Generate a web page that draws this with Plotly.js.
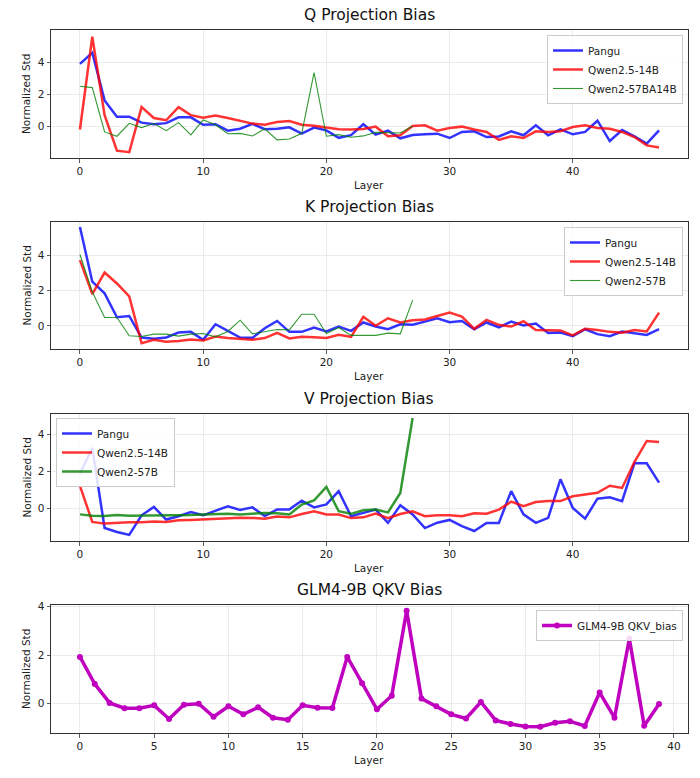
<!DOCTYPE html>
<html><head><meta charset="utf-8">
<script src="https://cdn.plot.ly/plotly-3.0.1.min.js"></script>
<style>html,body{margin:0;padding:0;background:#fff}</style>
</head><body><div id="chart" style="width:700px;height:778px"></div>
<script>
// ---------- data ----------
const layers48 = [0,1,2,3,4,5,6,7,8,9,10,11,12,13,14,15,16,17,18,19,20,21,22,23,24,25,26,27,28,29,30,31,32,33,34,35,36,37,38,39,40,41,42,43,44,45,46,47];
const layers28 = [0,1,2,3,4,5,6,7,8,9,10,11,12,13,14,15,16,17,18,19,20,21,22,23,24,25,26,27];
const layers40 = [0,1,2,3,4,5,6,7,8,9,10,11,12,13,14,15,16,17,18,19,20,21,22,23,24,25,26,27,28,29,30,31,32,33,34,35,36,37,38,39];

const qPangu = [3.9,4.6,1.62,0.6,0.6,0.23,0.13,0.2,0.56,0.56,0.1,0.13,-0.27,-0.15,0.15,-0.18,-0.15,-0.06,-0.45,-0.08,-0.25,-0.72,-0.55,0.13,-0.52,-0.27,-0.75,-0.54,-0.5,-0.46,-0.73,-0.35,-0.31,-0.67,-0.63,-0.31,-0.56,0.06,-0.56,-0.19,-0.5,-0.35,0.35,-0.92,-0.23,-0.62,-1.08,-0.25];
const qQwen25 = [-0.2,5.6,0.69,-1.52,-1.62,1.2,0.52,0.38,1.2,0.7,0.54,0.67,0.52,0.35,0.17,0.1,0.27,0.33,0.1,0.04,-0.08,-0.19,-0.2,-0.17,-0.02,-0.62,-0.56,0.02,0.06,-0.27,-0.1,-0.02,-0.2,-0.35,-0.85,-0.62,-0.73,-0.31,-0.35,-0.31,-0.04,0.06,-0.1,-0.15,-0.35,-0.67,-1.19,-1.33];
const qQwen2 = [2.5,2.42,-0.35,-0.62,0.19,-0.08,0.17,-0.27,0.23,-0.54,0.4,0.1,-0.46,-0.44,-0.6,-0.15,-0.85,-0.79,-0.44,3.35,-0.62,-0.52,-0.68,-0.6,-0.38,-0.4,-0.42,0.02];

const kPangu = [5.6,2.5,1.84,0.49,0.56,-0.66,-0.73,-0.66,-0.38,-0.34,-0.79,0.09,-0.28,-0.66,-0.68,-0.13,0.28,-0.34,-0.34,-0.09,-0.32,-0.04,-0.28,0.19,-0.04,-0.19,0.09,0.06,0.24,0.43,0.21,0.28,-0.19,0.19,-0.08,0.24,0.02,0.13,-0.41,-0.38,-0.58,-0.19,-0.47,-0.58,-0.32,-0.43,-0.51,-0.19];
const kQwen25 = [3.72,1.8,3.02,2.4,1.67,-0.98,-0.79,-0.9,-0.86,-0.77,-0.83,-0.6,-0.69,-0.73,-0.79,-0.69,-0.39,-0.71,-0.62,-0.64,-0.69,-0.51,-0.62,0.51,0.0,0.43,0.19,0.32,0.36,0.56,0.75,0.53,-0.17,0.34,0.06,-0.04,0.26,-0.23,-0.23,-0.26,-0.54,-0.17,-0.23,-0.34,-0.39,-0.23,-0.32,0.75];
const kQwen2 = [4.04,1.93,0.47,0.47,-0.56,-0.6,-0.47,-0.47,-0.58,-0.47,-0.43,-0.62,-0.32,0.32,-0.45,-0.32,-0.21,-0.23,0.66,0.66,-0.43,-0.09,-0.54,-0.54,-0.54,-0.41,-0.45,1.46];

const vPangu = [1.89,3.28,-1.05,-1.26,-1.42,-0.36,0.09,-0.59,-0.41,-0.18,-0.36,-0.11,0.13,-0.07,0.07,-0.4,-0.04,-0.04,0.43,0.07,0.23,0.95,-0.41,-0.23,-0.05,-0.77,0.18,-0.31,-1.05,-0.76,-0.61,-0.95,-1.21,-0.77,-0.77,0.95,-0.31,-0.77,-0.5,1.59,0.04,-0.54,0.54,0.61,0.4,2.45,2.45,1.41];
const vQwen25 = [1.23,-0.72,-0.81,-0.76,-0.74,-0.74,-0.7,-0.72,-0.63,-0.61,-0.58,-0.54,-0.5,-0.49,-0.5,-0.54,-0.43,-0.47,-0.29,-0.14,-0.31,-0.32,-0.51,-0.47,-0.27,-0.52,-0.29,-0.14,-0.41,-0.36,-0.36,-0.41,-0.25,-0.27,-0.05,0.38,0.13,0.36,0.41,0.41,0.67,0.76,0.86,1.24,1.12,2.52,3.66,3.6];
const vQwen2 = [-0.31,-0.38,-0.4,-0.34,-0.38,-0.38,-0.36,-0.34,-0.36,-0.34,-0.31,-0.29,-0.27,-0.31,-0.25,-0.23,-0.25,-0.31,0.22,0.45,1.17,-0.14,-0.28,-0.09,-0.05,-0.2,0.85,4.9];

const glmQkv = [1.93,0.81,0.03,-0.19,-0.19,-0.07,-0.63,-0.04,0.0,-0.54,-0.11,-0.44,-0.15,-0.58,-0.66,-0.07,-0.17,-0.18,1.93,0.84,-0.23,0.33,3.83,0.21,-0.11,-0.44,-0.61,0.07,-0.69,-0.84,-0.94,-0.95,-0.79,-0.73,-0.92,0.46,-0.58,2.68,-0.91,-0.01];

const titles = ['Q Projection Bias','K Projection Bias','V Projection Bias','GLM4-9B QKV Bias'];
const xTicks48 = [0,10,20,30,40];
const xTicks40 = [0,5,10,15,20,25,30,35,40];
const yTicks = [0,2,4];

// ---------- layout helpers ----------
const W = 700, H = 778;
const px = v => v / W;
const py = v => 1 - v / H;
const boxL = 51, boxR = 688;
const boxes = [[30,158],[222,349],[414,541],[605,733]];
const FONT = 'DejaVu Sans, sans-serif';

const BLUE = 'rgba(0,0,255,0.8)', RED = 'rgba(255,0,0,0.8)', GREEN = 'rgba(0,128,0,0.8)', MAG = '#bf00bf';

const traces = [
  {x: layers48, y: qPangu, name: 'Pangu', line: {color: BLUE, width: 2.5}, xaxis: 'x', yaxis: 'y', legend: 'legend'},
  {x: layers48, y: qQwen25, name: 'Qwen2.5-14B', line: {color: RED, width: 2.5}, xaxis: 'x', yaxis: 'y', legend: 'legend'},
  {x: layers28, y: qQwen2, name: 'Qwen2-57BA14B', line: {color: GREEN, width: 1.1}, xaxis: 'x', yaxis: 'y', legend: 'legend'},
  {x: layers48, y: kPangu, name: 'Pangu', line: {color: BLUE, width: 2.5}, xaxis: 'x2', yaxis: 'y2', legend: 'legend2'},
  {x: layers48, y: kQwen25, name: 'Qwen2.5-14B', line: {color: RED, width: 2.5}, xaxis: 'x2', yaxis: 'y2', legend: 'legend2'},
  {x: layers28, y: kQwen2, name: 'Qwen2-57B', line: {color: GREEN, width: 1.1}, xaxis: 'x2', yaxis: 'y2', legend: 'legend2'},
  {x: layers48, y: vPangu, name: 'Pangu', line: {color: BLUE, width: 2.5}, xaxis: 'x3', yaxis: 'y3', legend: 'legend3'},
  {x: layers48, y: vQwen25, name: 'Qwen2.5-14B', line: {color: RED, width: 2.5}, xaxis: 'x3', yaxis: 'y3', legend: 'legend3'},
  {x: layers28, y: vQwen2, name: 'Qwen2-57B', line: {color: GREEN, width: 2.5}, xaxis: 'x3', yaxis: 'y3', legend: 'legend3'},
  {x: layers40, y: glmQkv, name: 'GLM4-9B QKV_bias', mode: 'lines+markers', line: {color: MAG, width: 3.5}, marker: {color: MAG, size: 6}, xaxis: 'x4', yaxis: 'y4', legend: 'legend4'}
].map(t => Object.assign({type: 'scatter', mode: 'lines'}, t));

const xRanges = [[-2.35,49.35],[-2.35,49.35],[-2.35,49.35],[-1.95,40.95]];
const yRanges = [[-1.98,6.02],[-1.31,5.88],[-1.75,5.12],[-1.21,4.07]];

function xAxis(i) {
  return {
    domain: [px(boxL), px(boxR)], anchor: i === 0 ? 'y' : 'y' + (i + 1),
    range: xRanges[i], tickvals: i === 3 ? xTicks40 : xTicks48,
    showline: true, mirror: true, linecolor: '#333', linewidth: 1,
    ticks: 'outside', ticklen: 3.5, tickwidth: 0.8, tickcolor: '#333',
    showgrid: true, gridcolor: '#e6e6e6', gridwidth: 0.8, zeroline: false,
    tickfont: {family: FONT, size: 10.5, color: '#222'}
  };
}
function yAxis(i) {
  const b = boxes[i];
  return {
    domain: [py(b[1]), py(b[0])], anchor: i === 0 ? 'x' : 'x' + (i + 1),
    range: yRanges[i], tickvals: yTicks,
    showline: true, mirror: true, linecolor: '#333', linewidth: 1,
    ticks: 'outside', ticklen: 3.5, tickwidth: 0.8, tickcolor: '#333',
    showgrid: true, gridcolor: '#e6e6e6', gridwidth: 0.8, zeroline: false,
    tickfont: {family: FONT, size: 10.5, color: '#222'}
  };
}

const annotations = [];
boxes.forEach((b, i) => {
  annotations.push({text: titles[i], xref: 'paper', yref: 'paper', x: px((boxL + boxR) / 2), y: py(b[0] - 4),
    xanchor: 'center', yanchor: 'bottom', showarrow: false, font: {family: FONT, size: 15.5, color: '#111'}});
  annotations.push({text: 'Layer', xref: 'paper', yref: 'paper', x: px((boxL + boxR) / 2), y: py(b[1] + 27),
    xanchor: 'center', yanchor: 'middle', showarrow: false, font: {family: FONT, size: 10.5, color: '#222'}});
  annotations.push({text: 'Normalized Std', xref: 'paper', yref: 'paper', x: px(26), y: py((b[0] + b[1]) / 2),
    xanchor: 'center', yanchor: 'middle', textangle: -90, showarrow: false, font: {family: FONT, size: 10.5, color: '#222'}});
});

const legendBase = {bgcolor: 'rgba(255,255,255,0.85)', bordercolor: '#cccccc', borderwidth: 1,
  font: {family: FONT, size: 10.5, color: '#222'}, tracegroupgap: 0, itemwidth: 30};

const layout = {
  width: W, height: H, margin: {l: 0, r: 0, t: 0, b: 0},
  paper_bgcolor: '#fff', plot_bgcolor: '#fff', showlegend: true,
  xaxis: xAxis(0), xaxis2: xAxis(1), xaxis3: xAxis(2), xaxis4: xAxis(3),
  yaxis: yAxis(0), yaxis2: yAxis(1), yaxis3: yAxis(2), yaxis4: yAxis(3),
  legend: Object.assign({}, legendBase, {x: px(683), y: py(35), xanchor: 'right', yanchor: 'top'}),
  legend2: Object.assign({}, legendBase, {x: px(683), y: py(227), xanchor: 'right', yanchor: 'top'}),
  legend3: Object.assign({}, legendBase, {x: px(56), y: py(418), xanchor: 'left', yanchor: 'top'}),
  legend4: Object.assign({}, legendBase, {x: px(683), y: py(610), xanchor: 'right', yanchor: 'top'}),
  annotations: annotations
};

Plotly.newPlot('chart', traces, layout, {staticPlot: true, displayModeBar: false});
</script>
</body></html>
